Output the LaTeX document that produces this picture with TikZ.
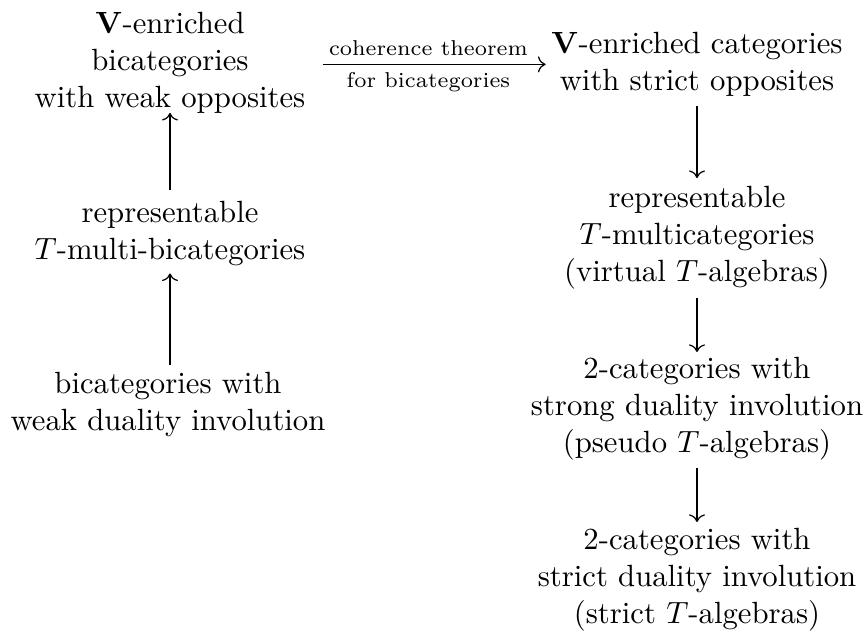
\documentclass[tikz,border=0pt]{standalone}
\usetikzlibrary{arrows.meta}
\begin{document}
\begin{tikzpicture}[x=0.3257pt,y=-0.3257pt,
  box/.style={align=center,inner sep=0pt,anchor=north},
  arr/.style={-{Computer Modern Rightarrow},line width=0.4pt},
  lbl/.style={font=\scriptsize,inner sep=2.5pt}]
\useasboundingbox (0,0) rectangle (868,631);
% left column
\node[box] (A)  at (170,11.7)  {$\mathbf{V}$-enriched\\bicategories\\with weak opposites};
\node[box] (L2) at (170,200.7) {representable\\$T$-multi-bicategories};
\node[box] (L3) at (168,371.7) {bicategories with\\weak duality involution};
% right column
\node[box] (B)  at (697,31.7)  {$\mathbf{V}$-enriched categories\\with strict opposites};
\node[box] (R2) at (697,185.7) {representable\\$T$-multicategories\\(virtual $T$-algebras)};
\node[box] (R3) at (697,356.7) {2-categories with\\strong duality involution\\(pseudo $T$-algebras)};
\node[box] (R4) at (697,527.7) {2-categories with\\strict duality involution\\(strict $T$-algebras)};
% arrows
\draw[arr,shorten <=3.49pt,shorten >=-0.33pt] (L2.north) -- (A.south);
\draw[arr,shorten <=2.18pt,shorten >=2.28pt] (L3.north -| L2.south) -- (L2.south);
\draw[arr,shorten <=5.4pt,shorten >=1.73pt] (A.east |- B.west) -- (B.west)
  node[lbl,midway,above] {coherence theorem}
  node[lbl,midway,below] {for bicategories};
\draw[arr,shorten <=2.93pt,shorten >=2.5pt] (B.south) -- (R2.north);
\draw[arr,shorten <=2.7pt,shorten >=1.53pt] (R2.south) -- (R3.north);
\draw[arr,shorten <=2.38pt,shorten >=1.86pt] (R3.south) -- (R4.north);
\end{tikzpicture}
\end{document}
